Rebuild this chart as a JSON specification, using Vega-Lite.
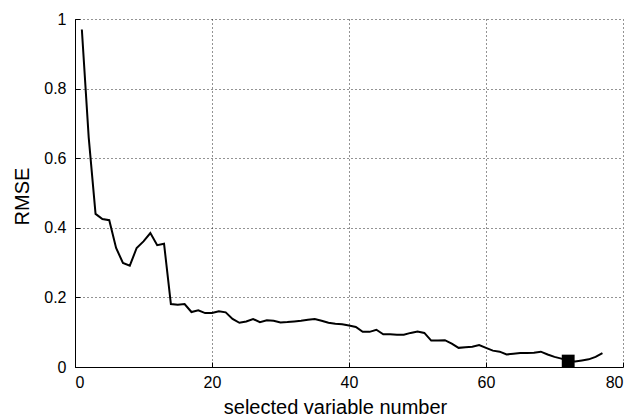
{
  "$schema": "https://vega.github.io/schema/vega-lite/v6.json",
  "width": 548,
  "height": 348,
  "autosize": {"type": "none"},
  "padding": {"left": 75, "top": 19, "right": 10, "bottom": 51},
  "background": "white",
  "config": {
    "view": {"stroke": null},
    "font": "Liberation Sans",
    "axis": {
      "domainColor": "#000",
      "domainWidth": 1,
      "gridColor": "#000",
      "gridDash": [1, 3],
      "gridWidth": 1,
      "gridOpacity": 0.85,
      "tickColor": "#000",
      "tickSize": -5,
      "labelColor": "#000",
      "labelFontSize": 16,
      "labelFont": "Liberation Sans",
      "titleFont": "Liberation Sans",
      "titleFontSize": 20,
      "titleFontWeight": "normal",
      "titleColor": "#000"
    }
  },
  "datasets": {
    "rmse": [
      {"n": 1, "rmse": 0.97}, {"n": 2, "rmse": 0.66}, {"n": 3, "rmse": 0.44},
      {"n": 4, "rmse": 0.425}, {"n": 5, "rmse": 0.422}, {"n": 6, "rmse": 0.342},
      {"n": 7, "rmse": 0.299}, {"n": 8, "rmse": 0.291}, {"n": 9, "rmse": 0.342},
      {"n": 10, "rmse": 0.361}, {"n": 11, "rmse": 0.385}, {"n": 12, "rmse": 0.35},
      {"n": 13, "rmse": 0.354}, {"n": 14, "rmse": 0.181}, {"n": 15, "rmse": 0.179},
      {"n": 16, "rmse": 0.181}, {"n": 17, "rmse": 0.158}, {"n": 18, "rmse": 0.163},
      {"n": 19, "rmse": 0.155}, {"n": 20, "rmse": 0.155}, {"n": 21, "rmse": 0.16},
      {"n": 22, "rmse": 0.157}, {"n": 23, "rmse": 0.138}, {"n": 24, "rmse": 0.127},
      {"n": 25, "rmse": 0.131}, {"n": 26, "rmse": 0.138}, {"n": 27, "rmse": 0.129},
      {"n": 28, "rmse": 0.134}, {"n": 29, "rmse": 0.133}, {"n": 30, "rmse": 0.128},
      {"n": 31, "rmse": 0.129}, {"n": 32, "rmse": 0.131}, {"n": 33, "rmse": 0.133},
      {"n": 34, "rmse": 0.136}, {"n": 35, "rmse": 0.138}, {"n": 36, "rmse": 0.133},
      {"n": 37, "rmse": 0.127}, {"n": 38, "rmse": 0.124}, {"n": 39, "rmse": 0.123},
      {"n": 40, "rmse": 0.119}, {"n": 41, "rmse": 0.115}, {"n": 42, "rmse": 0.101},
      {"n": 43, "rmse": 0.101}, {"n": 44, "rmse": 0.107}, {"n": 45, "rmse": 0.094},
      {"n": 46, "rmse": 0.094}, {"n": 47, "rmse": 0.093}, {"n": 48, "rmse": 0.093},
      {"n": 49, "rmse": 0.098}, {"n": 50, "rmse": 0.102}, {"n": 51, "rmse": 0.098},
      {"n": 52, "rmse": 0.076}, {"n": 53, "rmse": 0.076}, {"n": 54, "rmse": 0.077},
      {"n": 55, "rmse": 0.067}, {"n": 56, "rmse": 0.055}, {"n": 57, "rmse": 0.057},
      {"n": 58, "rmse": 0.058}, {"n": 59, "rmse": 0.063}, {"n": 60, "rmse": 0.055},
      {"n": 61, "rmse": 0.047}, {"n": 62, "rmse": 0.044}, {"n": 63, "rmse": 0.036},
      {"n": 64, "rmse": 0.038}, {"n": 65, "rmse": 0.04}, {"n": 66, "rmse": 0.04},
      {"n": 67, "rmse": 0.041}, {"n": 68, "rmse": 0.044}, {"n": 69, "rmse": 0.036},
      {"n": 70, "rmse": 0.029}, {"n": 71, "rmse": 0.024}, {"n": 72, "rmse": 0.017},
      {"n": 73, "rmse": 0.016}, {"n": 74, "rmse": 0.019}, {"n": 75, "rmse": 0.022},
      {"n": 76, "rmse": 0.029}, {"n": 77, "rmse": 0.04}
    ],
    "best": [{"n": 72, "rmse": 0.017}]
  },
  "layer": [
    {
      "data": {"name": "rmse"},
      "mark": {"type": "line", "color": "#000", "strokeWidth": 2, "clip": true},
      "encoding": {
        "x": {
          "field": "n", "type": "quantitative",
          "scale": {"domain": [0, 80], "nice": false, "zero": false},
          "axis": {
            "values": [0, 20, 40, 60, 80],
            "grid": true,
            "labelPadding": 12,
            "title": "selected variable number",
            "titleX": 260,
            "titleY": 46,
            "titleBaseline": "alphabetic",
            "titleAlign": "center"
          }
        },
        "y": {
          "field": "rmse", "type": "quantitative",
          "scale": {"domain": [0, 1], "nice": false},
          "axis": {
            "values": [0, 0.2, 0.4, 0.6, 0.8, 1],
            "format": "~g",
            "grid": true,
            "labelPadding": 14,
            "title": "RMSE",
            "titleAngle": -90,
            "titleX": -47,
            "titleY": 177,
            "titleBaseline": "alphabetic",
            "titleAlign": "center"
          }
        }
      }
    },
    {
      "data": {"name": "best"},
      "mark": {"type": "point", "shape": "square", "filled": true, "color": "#000", "opacity": 1, "size": 165},
      "encoding": {
        "x": {"field": "n", "type": "quantitative"},
        "y": {"field": "rmse", "type": "quantitative"}
      }
    }
  ]
}
